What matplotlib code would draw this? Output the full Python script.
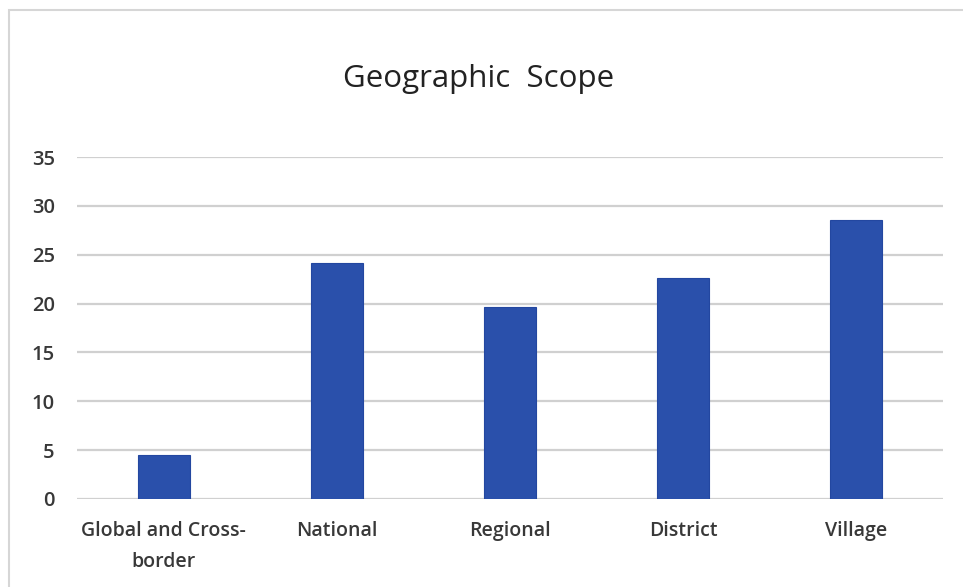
import matplotlib
matplotlib.use("Agg")
import matplotlib.pyplot as plt
from matplotlib.patches import Rectangle

# Data
categories = ["Global and Cross-\nborder", "National", "Regional", "District", "Village"]
values = [4.5, 24.2, 19.6, 22.6, 28.6]
yticks = [0, 5, 10, 15, 20, 25, 30, 35]

plt.rcParams['font.family'] = ['Open Sans', 'DejaVu Sans']

fig = plt.figure(figsize=(9.63, 5.87), dpi=100)
fig.patch.set_facecolor("white")

# light frame around the chart area
fig.add_artist(Rectangle((9 / 963, -0.05), 1.2, 1 - 10 / 587 + 0.05,
                         transform=fig.transFigure, fill=False,
                         edgecolor="#d6d6d6", linewidth=1.5))

ax = fig.add_axes([77 / 963, 1 - 499 / 587, (943 - 77) / 963, (499 - 157) / 587])

x = range(len(categories))
ax.bar(x, values, width=0.30, color="#2a50ab", edgecolor="#2347a0",
       linewidth=0.8, zorder=3)

ax.set_ylim(0, 35)
ax.set_xlim(-0.5, len(categories) - 0.5)
ax.set_yticks(yticks)
ax.set_yticklabels([str(v) for v in yticks], fontweight="semibold")
ax.set_xticks(list(x))
ax.set_xticklabels(categories, linespacing=1.7, fontweight="semibold")

ax.yaxis.grid(True, color="#d0d0d0", linewidth=1.6, zorder=0)
ax.xaxis.grid(False)
for s in ax.spines.values():
    s.set_visible(False)

ax.tick_params(axis="y", length=0, pad=16, labelsize=14.5, labelcolor="#383838")
ax.tick_params(axis="x", length=0, pad=16, labelsize=14, labelcolor="#383838")

fig.text(479 / 963, 1 - 87 / 587, "Geographic  Scope", ha="center",
         va="baseline", fontsize=22.5, color="#222222")

fig.savefig("out.png", dpi=100, facecolor="white")
